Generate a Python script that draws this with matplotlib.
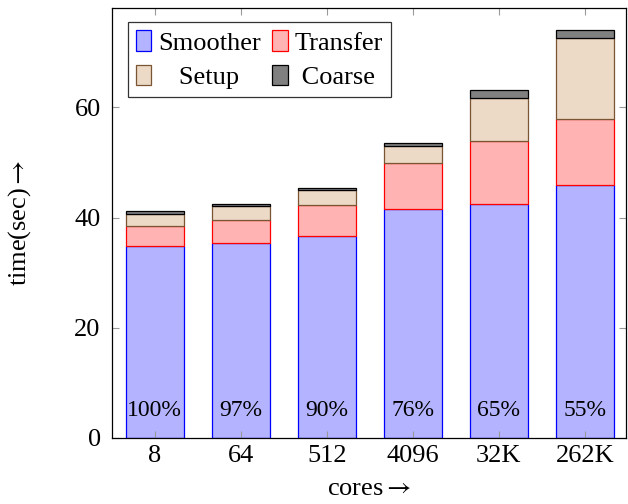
import matplotlib
matplotlib.use("Agg")
import matplotlib.pyplot as plt
import numpy as np

cores = ["8", "64", "512", "4096", "32K", "262K"]
smoother = [34.9, 35.4, 36.6, 41.6, 42.5, 45.9]
transfer = [3.6, 4.2, 5.6, 8.3, 11.4, 12.0]
setup = [2.2, 2.4, 2.8, 3.1, 7.7, 14.6]
coarse = [0.4, 0.4, 0.4, 0.6, 1.5, 1.5]
efficiency = ["100%", "97%", "90%", "76%", "65%", "55%"]

plt.rcParams['font.family'] = ['Liberation Serif', 'DejaVu Serif']
plt.rcParams['mathtext.fontset'] = 'stix'

fig = plt.figure(figsize=(6.28, 5.04), dpi=100)
ax = fig.add_axes([0.178, 0.131, 0.819, 0.853])

x = np.arange(len(cores))
w = 0.68
b1 = np.array(smoother)
b2 = b1 + np.array(transfer)
b3 = b2 + np.array(setup)

h1 = ax.bar(x, smoother, w, color='#b3b3ff', edgecolor='#0000ff', lw=0.9)
h2 = ax.bar(x, transfer, w, bottom=b1, color='#ffb3b3', edgecolor='#ff0000', lw=0.9)
h3 = ax.bar(x, setup, w, bottom=b2, color='#ecd9c6', edgecolor='#7a5533', lw=0.9)
h4 = ax.bar(x, coarse, w, bottom=b3, color='#808080', edgecolor='#000000', lw=0.9)

for xi, t in zip(x, efficiency):
    ax.text(xi, 5.0, t, ha='center', va='center', fontsize=17)

ax.set_xlim(-0.5, 5.48)
ax.set_ylim(0, 78)
ax.set_xticks(x)
ax.set_xticklabels(cores)
ax.set_yticks([0, 20, 40, 60])
ax.tick_params(direction='in', length=5, width=0.8, color='#999999',
               top=True, right=True, labelsize=19)
ax.tick_params(axis='y', pad=8)
ax.tick_params(axis='x', pad=5)
for s in ax.spines.values():
    s.set_linewidth(0.9)

ax.set_xlabel('cores$\\rightarrow$', fontsize=19, labelpad=8)
ax.set_ylabel('time(sec)$\\rightarrow$', fontsize=19, labelpad=30)

# row-wise order: Smoother, Transfer / Setup, Coarse
leg = ax.legend([h1, h3, h2, h4], ['Smoother', '   Setup', 'Transfer', ' Coarse'],
                loc='upper left', bbox_to_anchor=(0.031, 0.967), ncol=2,
                fontsize=19, frameon=True, fancybox=False, edgecolor='black',
                handlelength=0.6, handleheight=0.83, handletextpad=0.27,
                columnspacing=0.4, borderpad=0.3, labelspacing=0.38,
                borderaxespad=0)
leg.get_frame().set_linewidth(0.9)

fig.savefig('out.png', dpi=100)
